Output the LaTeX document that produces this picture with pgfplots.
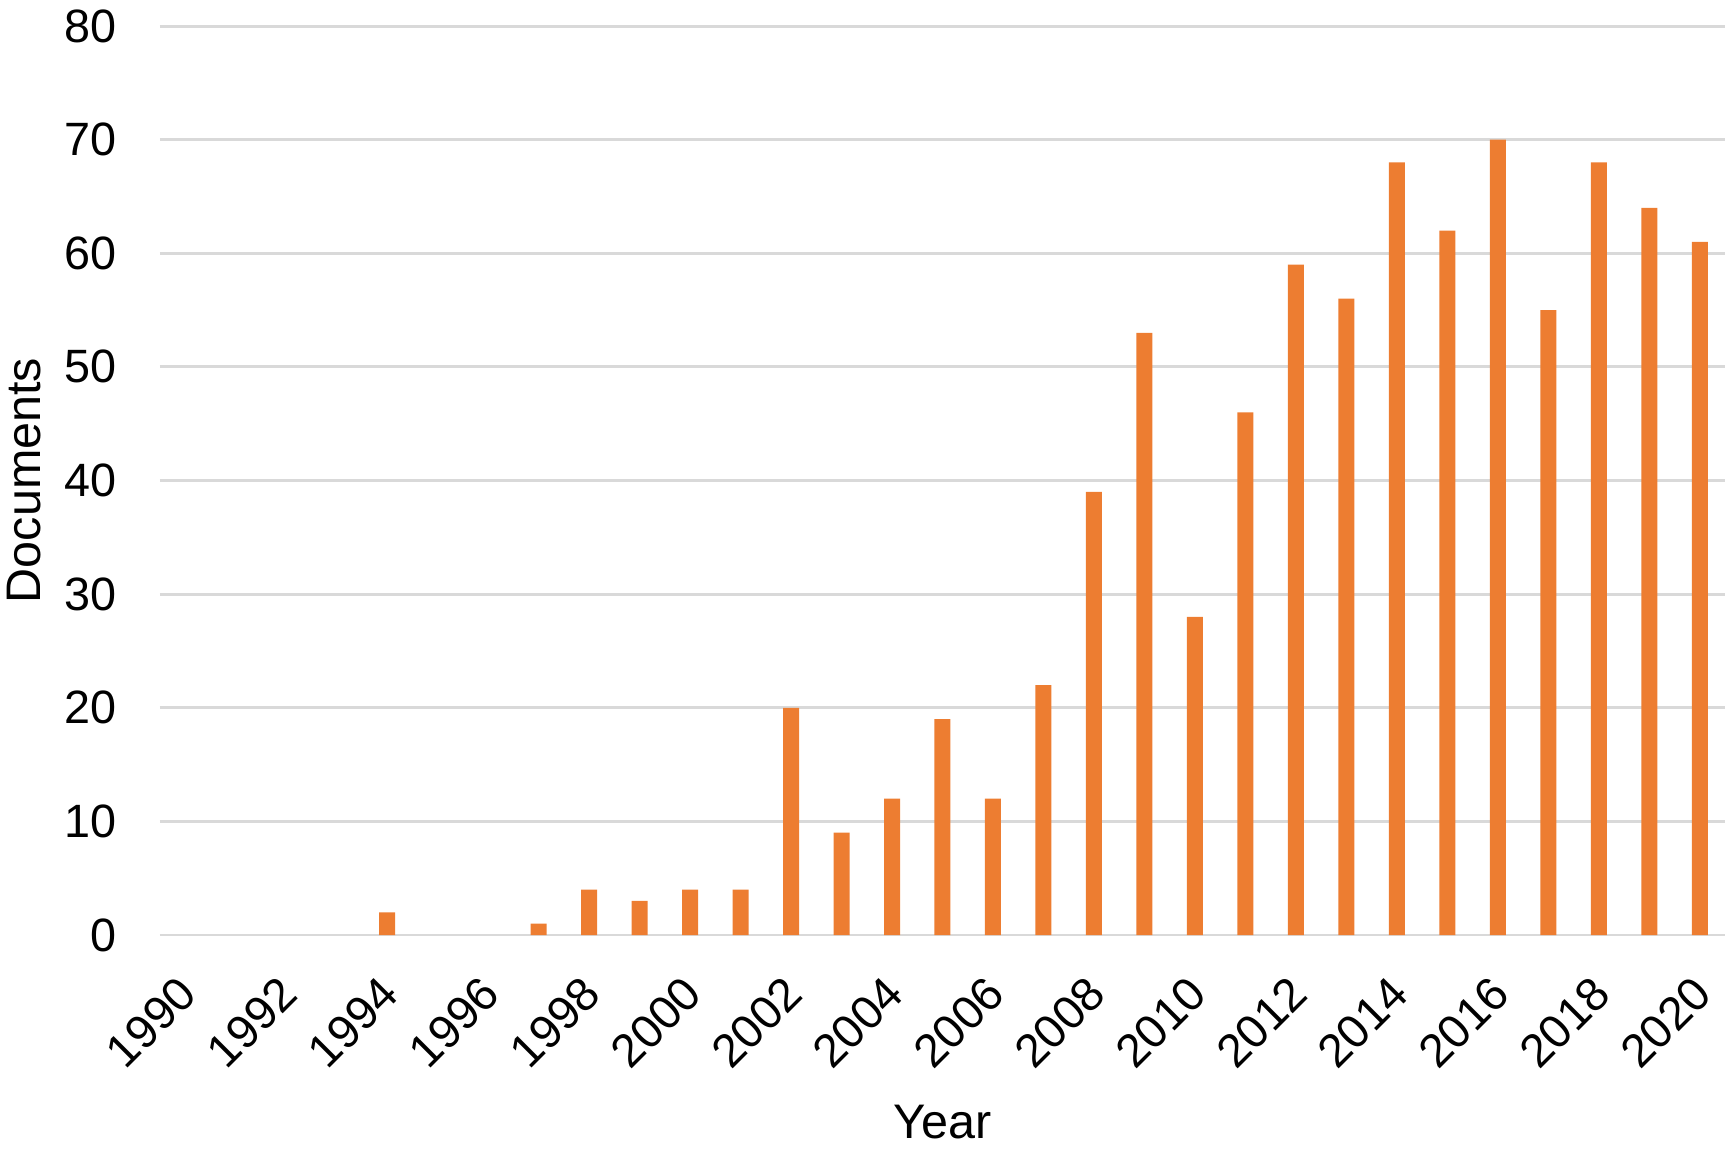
\documentclass[border=0pt]{standalone}
\usepackage{fontspec}
\setmainfont{Liberation Sans}
\usepackage{pgfplots}
\pgfplotsset{compat=1.18}
\definecolor{barorange}{HTML}{ED7D31}
\definecolor{gridgray}{HTML}{D9D9D9}
\begin{document}
\begin{tikzpicture}
\begin{axis}[
  at={(0,0)}, anchor=south west,
  scale only axis,
  width=156.5mm, height=90.9mm,
  xmin=1989.5, xmax=2020.5,
  ymin=0, ymax=80,
  ytick={0,10,...,80},
  xtick={1990,1992,...,2020},
  axis line style={draw=none},
  major tick length=0pt,
  ymajorgrids,
  grid style={gridgray, line width=0.85pt},
  /pgf/number format/assume math mode=true,
  /pgf/number format/1000 sep={},
  tick label style={font=\fontsize{13.3}{15}\selectfont, text=black},
  yticklabel style={anchor=east, inner sep=0pt, xshift=-4.3mm},
  xticklabel style={yshift=-3.8mm, xshift=-0.9mm, rotate=45, anchor=north east, inner sep=0pt},
  every axis x label/.style={at={(axis description cs:0.5,0)}, yshift=-18.7mm, anchor=center, font=\fontsize{13.8}{16}\selectfont},
  every axis y label/.style={at={(axis description cs:0,0.5)}, xshift=-13.6mm, rotate=90, anchor=center, font=\fontsize{13.8}{16}\selectfont},
  xlabel={Year},
  ylabel={Documents},
  ybar, bar width=1.6mm,
  clip=false,
]
\addplot[fill=barorange, draw=none] coordinates {
(1994,2) (1997,1)
(1998,4) (1999,3) (2000,4) (2001,4) (2002,20) (2003,9) (2004,12) (2005,19)
(2006,12) (2007,22) (2008,39) (2009,53) (2010,28) (2011,46) (2012,59)
(2013,56) (2014,68) (2015,62) (2016,70) (2017,55) (2018,68) (2019,64) (2020,61)
};
\end{axis}
\pgfresetboundingbox
\useasboundingbox (-16mm,-21.9mm) rectangle (156.5mm,93.5mm);
\end{tikzpicture}
\end{document}
